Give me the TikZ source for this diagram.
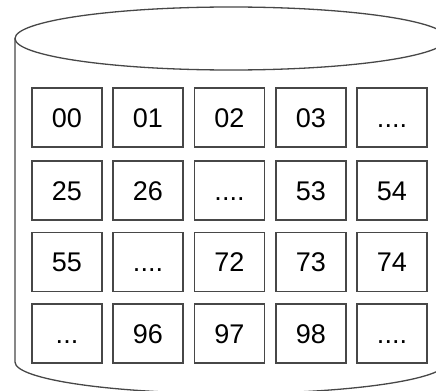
\documentclass[tikz,border=0pt]{standalone}
\usepackage{fontspec}
\setmainfont{Liberation Sans}
\begin{document}
\begin{tikzpicture}[x=0.5pt,y=-0.5pt,
  cell/.style={draw=black!72,line width=0.65pt,minimum width=35pt,minimum height=29.5pt,
    inner sep=0pt,font=\fontsize{13.5pt}{15pt}\selectfont,text height=0.716em+2.5pt,text depth=0pt},
  cyl/.style={draw=black!72,line width=0.65pt}]
\useasboundingbox (0,0) rectangle (436,391);
\clip (0,0) rectangle (436,391);
% cylinder
\draw[cyl] (231,38.5) ellipse [x radius=108pt,y radius=15.75pt];
\draw[cyl] (15,38.5) -- (15,362) arc[start angle=180,end angle=360,x radius=108pt,y radius=15.75pt] -- (447,38.5);
% cells
\node[cell] (c11) at (67,117.5) {00};
\node[cell] (c12) at (148,117.5) {01};
\node[cell] (c13) at (229.5,117.5) {02};
\node[cell] (c14) at (311,117.5) {03};
\node[cell] (c15) at (392,117.5) {....};
\node[cell] (c21) at (67,190.5) {25};
\node[cell] (c22) at (148,190.5) {26};
\node[cell] (c23) at (229.5,190.5) {....};
\node[cell] (c24) at (311,190.5) {53};
\node[cell] (c25) at (392,190.5) {54};
\node[cell] (c31) at (67,262) {55};
\node[cell] (c32) at (148,262) {....};
\node[cell] (c33) at (229.5,262) {72};
\node[cell] (c34) at (311,262) {73};
\node[cell] (c35) at (392,262) {74};
\node[cell] (c41) at (67,333.5) {...};
\node[cell] (c42) at (148,333.5) {96};
\node[cell] (c43) at (229.5,333.5) {97};
\node[cell] (c44) at (311,333.5) {98};
\node[cell] (c45) at (392,333.5) {....};
\end{tikzpicture}
\end{document}
